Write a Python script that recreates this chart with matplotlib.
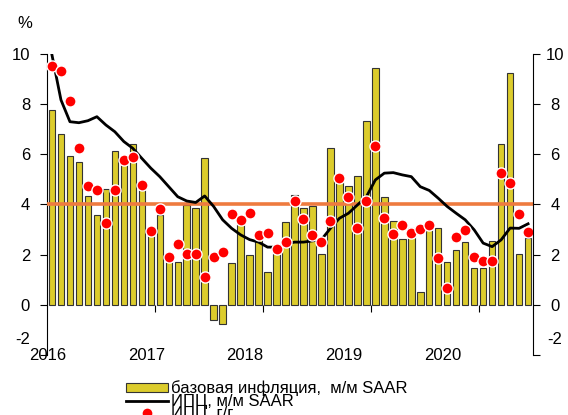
import numpy as np
import matplotlib
matplotlib.use("Agg")
from matplotlib import pyplot as plt

plt.rcParams['font.family'] = ['Liberation Sans', 'DejaVu Sans']
plt.rcParams['font.size'] = 12
plt.rcParams['axes.unicode_minus'] = False

# monthly data, Jan 2016 .. Jun 2020
core_mm_saar = [7.75, 6.83, 5.95, 5.71, 4.34, 3.57, 4.61, 6.14, 5.64, 6.40,
                4.58, 2.79, 3.59, 1.70, 1.72, 3.97, 3.88, 5.87, -0.60, -0.77,
                1.66, 3.21, 1.98, 2.90, 1.29, 2.05, 3.29, 4.37, 3.86, 3.93,
                2.03, 6.24, 4.90, 4.75, 5.14, 7.34, 9.45, 4.29, 3.36, 2.62,
                3.06, 0.51, 3.12, 3.05, 1.69, 2.19, 2.51, 1.45, 1.45, 2.54,
                6.40, 9.23, 2.04, 2.66]
cpi_mm_saar = [9.96, 8.17, 7.30, 7.26, 7.34, 7.50, 7.17, 6.90, 6.51, 6.24,
               5.84, 5.45, 5.11, 4.71, 4.31, 4.14, 4.08, 4.34, 3.92, 3.39,
               3.05, 2.79, 2.60, 2.50, 2.30, 2.30, 2.42, 2.50, 2.50, 2.55,
               2.60, 3.05, 3.45, 3.65, 3.98, 4.31, 4.98, 5.25, 5.27, 5.18,
               5.11, 4.71, 4.56, 4.25, 3.92, 3.65, 3.39, 2.99, 2.46, 2.32,
               2.59, 3.06, 3.05, 3.23]
cpi_yy = [9.54, 9.33, 8.13, 6.24, 4.75, 4.58, 3.28, 4.58, 5.78, 5.91,
          4.78, 2.96, 3.81, 1.90, 2.43, 2.02, 2.03, 1.09, 1.91, 2.09,
          3.63, 3.40, 3.67, 2.79, 2.86, 2.23, 2.52, 4.14, 3.41, 2.80,
          2.50, 3.36, 5.07, 4.28, 3.08, 4.14, 6.35, 3.45, 2.82, 3.19,
          2.86, 3.03, 3.19, 1.86, 0.69, 2.70, 2.99, 1.89, 1.75, 1.75,
          5.27, 4.85, 3.63, 2.90]
target = 4
years = ['2016', '2017', '2018', '2019', '2020']
year_label_pos = [-0.5, 10.5, 21.5, 32.5, 43.5]
year_bounds = [11.5, 23.5, 35.5, 47.5]
yticks = [-2, 0, 2, 4, 6, 8, 10]
labels = ['базовая инфляция,  м/м SAAR', 'ИПЦ, м/м SAAR', 'ИПЦ, г/г']

x = np.arange(len(core_mm_saar))

fig = plt.figure(figsize=(5.68, 4.15), dpi=100)
ax = fig.add_axes([0.0836, 0.1446, 0.854, 0.7253])

bars = ax.bar(x, core_mm_saar, width=0.72, color='#DCCC2C',
              edgecolor='#333333', linewidth=0.8, zorder=2)
ax.axhline(target, color='#EE7B3F', lw=2.6, zorder=3)
ln, = ax.plot(x, cpi_mm_saar, color='black', lw=2.0, zorder=4)
dots, = ax.plot(x, cpi_yy, 'o', color='red', ms=8, mec='white', mew=1.0,
                linestyle='none', zorder=5)

ax.set_xlim(-0.5, len(x) - 0.5)
ax.set_ylim(-2, 10)
# the lowest label sits higher than its tick in the source, drawn below
ytl = [''] + [str(v) for v in yticks[1:]]
ax.set_yticks(yticks, ytl)

ax.spines['top'].set_visible(False)
ax.spines['right'].set_visible(False)
ax.spines['bottom'].set_position(('data', 0))
ax.spines['bottom'].set_color('none')
ax.spines['left'].set_linewidth(0.8)

ax.set_xticks(year_bounds)
ax.set_xticklabels([''] * len(year_bounds))
ax.tick_params(axis='x', which='major', length=5, direction='out', width=0.8)
ax.set_xticks(year_label_pos, minor=True)
ax.set_xticklabels(years, minor=True)
ax.tick_params(axis='x', which='minor', length=0, pad=31, labelsize=12)
ax.tick_params(axis='y', length=5, width=0.8, pad=7.5, labelsize=12)

ax2 = ax.twinx()
ax2.set_ylim(-2, 10)
ax2.set_yticks(yticks, ytl)
for s in ['top', 'left', 'bottom']:
    ax2.spines[s].set_visible(False)
ax2.spines['right'].set_linewidth(0.8)
ax2.tick_params(axis='y', length=5, width=0.8, pad=11, labelsize=12)
for t in ax2.get_yticklabels():
    t.set_horizontalalignment('center')

ax.annotate(str(yticks[0]), xy=(0, yticks[0]), xycoords=('axes fraction', 'data'),
            xytext=(-17, 15), textcoords='offset pixels', ha='right', va='center',
            fontsize=12)
ax.annotate(str(yticks[0]), xy=(1, yticks[0]), xycoords=('axes fraction', 'data'),
            xytext=(22, 15), textcoords='offset pixels', ha='center', va='center',
            fontsize=12)

fig.text(25 / 568, 1 - 24 / 415, '%', ha='center', va='center', fontsize=12)

# legend rows overlap a bit, as in the source picture
fig.legend([bars, ln, dots], labels, loc='upper left',
           bbox_to_anchor=(0.222, 0.083), frameon=False, fontsize=12,
           labelspacing=-0.15, handlelength=2.5, handleheight=0.5,
           handletextpad=0.2, borderpad=0, borderaxespad=0)

fig.savefig('out.png', dpi=100)
